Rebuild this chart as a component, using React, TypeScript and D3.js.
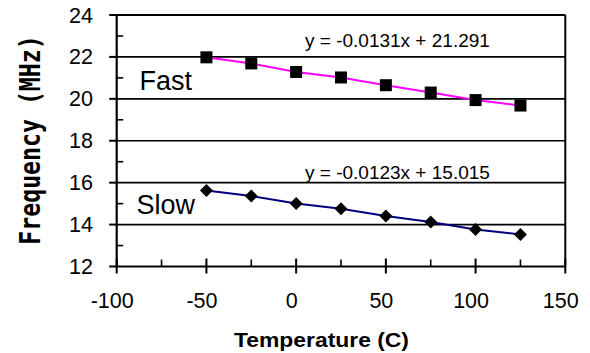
import React from "react";
import * as d3 from "d3";

const temps = [-50, -25, 0, 25, 50, 75, 100, 125];
const fastValues = [21.98, 21.69, 21.28, 21.02, 20.65, 20.3, 19.94, 19.68];
const slowValues = [15.63, 15.36, 15.01, 14.76, 14.41, 14.12, 13.77, 13.53];
const xTicks = [-100, -50, 0, 50, 100, 150];
const xMinorTicks = [-75, -25, 25, 75, 125];
const yTicks = [12, 14, 16, 18, 20, 22, 24];
const yMinorTicks = [13, 15, 17, 19, 21, 23];
const fastEquation = "y = -0.0131x + 21.291";
const slowEquation = "y = -0.0123x + 15.015";
const xTitle = "Temperature (C)";
const yTitle = "Frequency (MHz)";

const W = 590;
const H = 353;
const FONT = "'Liberation Sans', Arial, Helvetica, sans-serif";

export default function App() {
  const x = d3.scaleLinear().domain([-100, 150]).range([116.7, 565.3]);
  const y = d3.scaleLinear().domain([12, 24]).range([266.5, 15]);

  const line = d3
    .line<[number, number]>()
    .x((d) => x(d[0]))
    .y((d) => y(d[1]));

  const fastPts: [number, number][] = temps.map((t, i) => [t, fastValues[i]]);
  const slowPts: [number, number][] = temps.map((t, i) => [t, slowValues[i]]);

  const x0 = x.range()[0];
  const x1 = x.range()[1];
  const yb = y.range()[0];
  const yt = y.range()[1];

  return (
    <svg
      width={W}
      height={H}
      style={{ position: "absolute", left: 0, top: 0, background: "#fff" }}
    >
      <rect x={0} y={0} width={W} height={H} fill="#fff" />
      {/* gridlines */}
      {yTicks.slice(1, -1).map((v) => (
        <line key={"g" + v} x1={x0} x2={x1} y1={y(v)} y2={y(v)} stroke="#000" strokeWidth={1.6} />
      ))}
      {/* frame */}
      <line x1={x0} x2={x1} y1={yt} y2={yt} stroke="#000" strokeWidth={2} />
      <line x1={x1} x2={x1} y1={yt} y2={yb} stroke="#000" strokeWidth={2} />
      <line x1={x0} x2={x0} y1={yt} y2={yb} stroke="#000" strokeWidth={2.2} />
      <line x1={x0} x2={x1} y1={yb} y2={yb} stroke="#000" strokeWidth={2.2} />
      {/* y ticks */}
      {yTicks.map((v) => (
        <line key={"yt" + v} x1={x0 - 7.5} x2={x0} y1={y(v)} y2={y(v)} stroke="#000" strokeWidth={2} />
      ))}
      {yMinorTicks.map((v) => (
        <line key={"ym" + v} x1={x0} x2={x0 + 6.5} y1={y(v)} y2={y(v)} stroke="#000" strokeWidth={1.6} />
      ))}
      {/* x ticks */}
      {xTicks.map((v) => (
        <line key={"xt" + v} x1={x(v)} x2={x(v)} y1={yb - 8} y2={yb + 7} stroke="#000" strokeWidth={2} />
      ))}
      {xMinorTicks.map((v) => (
        <line key={"xm" + v} x1={x(v)} x2={x(v)} y1={yb - 7} y2={yb} stroke="#000" strokeWidth={1.6} />
      ))}
      {/* tick labels */}
      {yTicks.map((v) => (
        <text
          key={"yl" + v}
          x={93}
          y={y(v) + 7.5}
          textAnchor="end"
          fontFamily={FONT}
          fontSize={21.5}
          fill="#000"
        >
          {v}
        </text>
      ))}
      {xTicks.map((v) => (
        <text
          key={"xl" + v}
          x={x(v) - 4.5}
          y={307.5}
          textAnchor="middle"
          fontFamily={FONT}
          fontSize={21.5}
          fill="#000"
        >
          {v}
        </text>
      ))}
      {/* series lines */}
      <path d={line(fastPts) || ""} fill="none" stroke="#FF00FF" strokeWidth={2} />
      <path d={line(slowPts) || ""} fill="none" stroke="#000080" strokeWidth={2} />
      {/* markers */}
      {fastPts.map((p, i) => (
        <rect
          key={"fm" + i}
          x={x(p[0]) - 6}
          y={y(p[1]) - 6}
          width={12}
          height={12}
          fill="#000"
        />
      ))}
      {slowPts.map((p, i) => {
        const cx = x(p[0]);
        const cy = y(p[1]);
        const r = 6.5;
        return (
          <path
            key={"sm" + i}
            d={`M${cx},${cy - r}L${cx + r},${cy}L${cx},${cy + r}L${cx - r},${cy}Z`}
            fill="#000"
          />
        );
      })}
      {/* annotations */}
      <text x={139.5} y={90} fontFamily={FONT} fontSize={27} fill="#000">
        Fast
      </text>
      <text x={136.5} y={214} fontFamily={FONT} fontSize={27} fill="#000">
        Slow
      </text>
      <text x={305} y={46.5} fontFamily={FONT} fontSize={19} fill="#000">
        {fastEquation}
      </text>
      <text x={305} y={179} fontFamily={FONT} fontSize={19} fill="#000">
        {slowEquation}
      </text>
      {/* axis titles */}
      <text
        x={321.5}
        y={346.5}
        textAnchor="middle"
        fontFamily={FONT}
        fontWeight="bold"
        fontSize={20}
        textLength={175}
        lengthAdjust="spacingAndGlyphs"
        fill="#000"
      >
        {xTitle}
      </text>
      <g transform="translate(40,140) rotate(-90) scale(0.8,1)">
        <text
          x={0}
          y={0}
          textAnchor="middle"
          fontFamily="'DejaVu Sans Mono', monospace"
          fontWeight="bold"
          fontSize={29}
          fill="#000"
        >
          {yTitle}
        </text>
      </g>
    </svg>
  );
}
